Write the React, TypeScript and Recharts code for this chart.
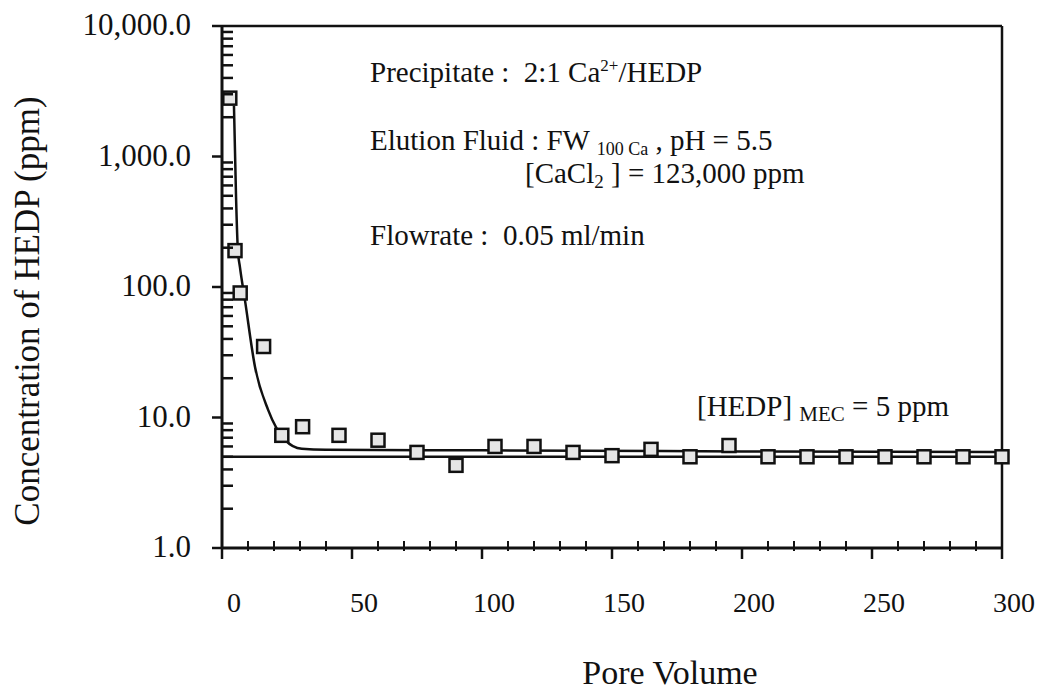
import React from "react";
import {
  ComposedChart,
  XAxis,
  YAxis,
  Scatter,
  Line,
  ReferenceLine,
  Customized,
  Label,
} from "recharts";

// measured points (pore volume vs HEDP concentration)
const poreVolumes = [3, 5, 7, 16, 23, 31, 45, 60, 75, 90, 105, 120, 135, 150, 165, 180, 195, 210, 225, 240, 255, 270, 285, 300];
const hedpConc = [2800, 190, 90, 35, 7.3, 8.5, 7.3, 6.7, 5.4, 4.3, 6.0, 6.0, 5.4, 5.1, 5.7, 5.0, 6.1, 5.0, 5.0, 5.0, 5.0, 5.0, 5.0, 5.0];

// fitted curve
const fitPoreVolumes = [4.6, 5.4, 6.1, 6.9, 8.8, 12.7, 17.7, 24.2, 30.7, 40, 100, 200, 300];
const fitConc = [2450, 490, 192, 142, 80, 24.4, 11.5, 6.75, 5.76, 5.65, 5.6, 5.5, 5.45];

const mecLevel = 5;

const xTicks = [0, 50, 100, 150, 200, 250, 300];
const xMinorTicks = [10, 20, 30, 40, 60, 70, 80, 90, 110, 120, 130, 140, 160, 170, 180, 190, 210, 220, 230, 240, 260, 270, 280, 290];
const yTicks = [1, 10, 100, 1000, 10000];
const yMinorTicks = [1, 10, 100, 1000].flatMap((d) => [2, 3, 4, 5, 6, 7, 8, 9].map((k) => k * d));

const points = poreVolumes.map((pv, i) => ({ pv, c: hedpConc[i] }));
const fit = fitPoreVolumes.map((pv, i) => ({ pv, c: fitConc[i] }));

const allXTicks = [...xTicks, ...xMinorTicks].sort((a, b) => a - b);
const allYTicks = [...yTicks, ...yMinorTicks].sort((a, b) => a - b);

const FONT = "'Liberation Serif', 'Times New Roman', 'DejaVu Serif', serif";
const INK = "#111";

const fmtY = (v: number) => v.toLocaleString("en-US", { minimumFractionDigits: 1, maximumFractionDigits: 1 });

function Square(props: any) {
  const { cx, cy } = props;
  if (cx == null || cy == null) return null;
  return <rect x={cx - 6.5} y={cy - 6.5} width={13} height={13} fill="#e6e6e6" stroke={INK} strokeWidth={2.5} />;
}

// y ticks: majors stick out to the left with a label, minors point into the plot
function YTick(props: any) {
  const { x, y, payload } = props;
  const major = yTicks.includes(payload.value);
  if (!major) {
    return <line x1={x} x2={x + 11} y1={y} y2={y} stroke={INK} strokeWidth={2.5} />;
  }
  return (
    <g>
      <line x1={x - 10} x2={x} y1={y} y2={y} stroke={INK} strokeWidth={2.5} />
      <text x={x - 31} y={y} dy={9} textAnchor="end" fontSize={31} style={{ fontFamily: FONT }} fill={INK}>
        {fmtY(payload.value)}
      </text>
    </g>
  );
}

function XTick(props: any) {
  const { x, y, payload } = props;
  const major = xTicks.includes(payload.value);
  if (!major) {
    return <line x1={x} x2={x} y1={y - 7} y2={y + 3} stroke={INK} strokeWidth={2} />;
  }
  return (
    <g>
      <line x1={x} x2={x} y1={y} y2={y + 11} stroke={INK} strokeWidth={2.5} />
      <text x={x + 12} y={y} dy={64} textAnchor="middle" fontSize={28} style={{ fontFamily: FONT }} fill={INK}>
        {payload.value}
      </text>
    </g>
  );
}

function Notes() {
  const t = { fontSize: 29, fill: INK, style: { whiteSpace: "pre" as const, fontFamily: FONT } };
  return (
    <g>
      <text x={370} y={82} {...t}>
        {"Precipitate :  2:1 Ca"}
        <tspan dy={-11} fontSize={17}>2+</tspan>
        <tspan dy={11}>/HEDP</tspan>
      </text>
      <text x={370} y={150} {...t}>
        {"Elution Fluid : FW "}
        <tspan dy={5} fontSize={18}>100 Ca</tspan>
        <tspan dy={-5}>{" , pH = 5.5"}</tspan>
      </text>
      <text x={525} y={183} {...t}>
        {"[CaCl"}
        <tspan dy={5} fontSize={19}>2</tspan>
        <tspan dy={-5}>{" ] = 123,000 ppm"}</tspan>
      </text>
      <text x={370} y={245} {...t}>
        {"Flowrate :  0.05 ml/min"}
      </text>
      <text x={697} y={416} {...t}>
        {"[HEDP] "}
        <tspan dy={5} fontSize={21}>MEC</tspan>
        <tspan dy={-5}>{" = 5 ppm"}</tspan>
      </text>
    </g>
  );
}

export default function App() {
  return (
    <div
      style={{
        position: "absolute",
        left: 0,
        top: 0,
        width: 1042,
        height: 694,
        background: "#fff",
        fontFamily: FONT,
      }}
    >
      <ComposedChart width={1042} height={694} margin={{ top: 26, right: 40, bottom: 0, left: 0 }}>
        <XAxis
          dataKey="pv"
          type="number"
          domain={[0, 300]}
          ticks={allXTicks}
          interval={0}
          height={146}
          tickSize={0}
          tickMargin={0}
          tick={<XTick />}
          tickLine={false}
          axisLine={{ stroke: INK, strokeWidth: 3 }}
        >
          <Label
            content={() => (
              <text x={670} y={684} textAnchor="middle" fontSize={34} style={{ fontFamily: FONT }} fill={INK}>
                Pore Volume
              </text>
            )}
          />
        </XAxis>
        <XAxis
          xAxisId="top"
          orientation="top"
          type="number"
          domain={[0, 300]}
          mirror
          tick={false}
          tickLine={false}
          axisLine={{ stroke: INK, strokeWidth: 2.5 }}
        />
        <YAxis
          dataKey="c"
          type="number"
          scale="log"
          domain={[1, 10000]}
          ticks={allYTicks}
          interval={0}
          width={222}
          tickSize={0}
          tickMargin={0}
          tick={<YTick />}
          tickLine={false}
          axisLine={{ stroke: INK, strokeWidth: 3 }}
        >
          <Label
            content={() => (
              <text
                x={39}
                y={311}
                transform="rotate(-90 39 311)"
                textAnchor="middle"
                fontSize={35}
                style={{ fontFamily: FONT }}
                fill={INK}
              >
                Concentration of HEDP (ppm)
              </text>
            )}
          />
        </YAxis>
        <YAxis
          yAxisId="right"
          orientation="right"
          type="number"
          scale="log"
          domain={[1, 10000]}
          mirror
          tick={false}
          tickLine={false}
          axisLine={{ stroke: INK, strokeWidth: 2.5 }}
        />
        <ReferenceLine y={mecLevel} stroke={INK} strokeWidth={2.5} />
        <Line
          data={fit}
          dataKey="c"
          type="monotone"
          stroke={INK}
          strokeWidth={2.5}
          dot={false}
          activeDot={false}
          isAnimationActive={false}
        />
        <Scatter data={points} dataKey="c" shape={Square} isAnimationActive={false} />
        <Customized component={Notes} />
      </ComposedChart>
    </div>
  );
}
